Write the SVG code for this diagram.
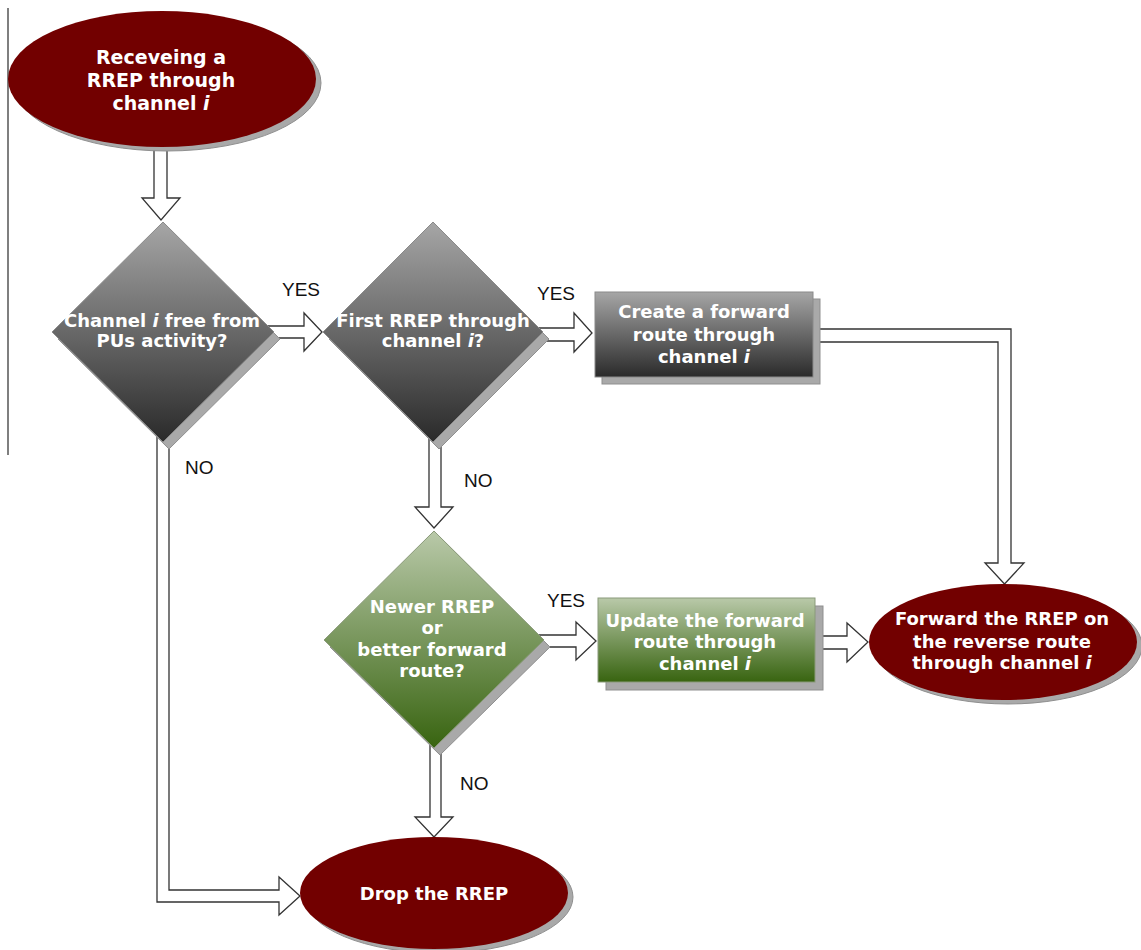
<svg xmlns="http://www.w3.org/2000/svg" width="1141" height="950" viewBox="0 0 1141 950">
<defs>
<linearGradient id="gGray" x1="0" y1="0" x2="0" y2="1">
<stop offset="0" stop-color="#a6a6a6"/>
<stop offset="1" stop-color="#2a2a2a"/>
</linearGradient>
<linearGradient id="gGreen" x1="0" y1="0" x2="0" y2="1">
<stop offset="0" stop-color="#b9c9a9"/>
<stop offset="1" stop-color="#386410"/>
</linearGradient>
</defs>
<style>
.arrow{fill:#ffffff;stroke:#333333;stroke-width:1.3;stroke-linejoin:miter}
.shadow{fill:#a9a9a9;stroke:#8f8f8f;stroke-width:1}
.term{fill:#720000}
.gray{fill:url(#gGray);stroke:#8a8a8a;stroke-width:1}
.green{fill:url(#gGreen);stroke:#8a9a7a;stroke-width:1}
.nt{font-family:"DejaVu Sans","Verdana",sans-serif;font-weight:bold;font-size:18px;fill:#ffffff;text-anchor:middle}
.big{font-size:19px}
.lbl{font-family:"Liberation Sans","Arial",sans-serif;font-size:19px;fill:#111111}
.it{font-style:italic}
</style>
<rect x="0" y="0" width="1141" height="950" fill="#ffffff"/>
<line x1="8" y1="8" x2="8" y2="455" stroke="#555555" stroke-width="1.5"/>
<g id="connectors">
<path class="arrow" d="M154,140 L154,198 L142,198 L161,220 L180,198 L167,198 L167,140 Z"/>
<path class="arrow" d="M262,326 L304,326 L304,313 L322,332 L304,351 L304,338 L262,338 Z"/>
<path class="arrow" d="M532,328 L574,328 L574,313 L592,333 L574,352 L574,341 L532,341 Z"/>
<path class="arrow" d="M808,329 L1011,329 L1011,563 L1024,563 L1004.5,584 L985,563 L998,563 L998,342 L808,342 Z"/>
<path class="arrow" d="M429,428 L429,507 L415,507 L434,528 L453,507 L441,507 L441,428 Z"/>
<path class="arrow" d="M530,635 L576,635 L576,622 L596,641 L576,660 L576,647 L530,647 Z"/>
<path class="arrow" d="M810,636 L847,636 L847,623 L868,642 L847,662 L847,649 L810,649 Z"/>
<path class="arrow" d="M430,735 L430,817 L415,817 L434,837 L453,817 L441,817 L441,735 Z"/>
<path class="arrow" d="M157,432 L157,902 L279,902 L279,915 L300,896 L279,877 L279,890 L169,890 L169,432 Z"/>
</g>
<g id="labels">
<text class="lbl" x="282" y="296">YES</text>
<text class="lbl" x="537" y="300">YES</text>
<text class="lbl" x="547" y="607">YES</text>
<text class="lbl" x="185" y="474">NO</text>
<text class="lbl" x="464" y="487">NO</text>
<text class="lbl" x="460" y="790">NO</text>
</g>
<g id="start">
<ellipse cx="167" cy="83" rx="154" ry="68" class="shadow"/>
<ellipse cx="162" cy="79" rx="154" ry="68" class="term"/>
<text class="nt big" x="161" y="64">Receveing a</text>
<text class="nt big" x="161" y="87">RREP through</text>
<text class="nt big" x="161" y="110">channel <tspan class="it">i</tspan></text>
</g>
<g id="decision1">
<polygon class="shadow" points="169,229 280,339 169,449 58,339"/>
<polygon class="gray" points="163,222 274,332 163,442 52,332"/>
<text class="nt" x="162" y="327">Channel <tspan class="it">i</tspan> free from</text>
<text class="nt" x="162" y="347">PUs activity?</text>
</g>
<g id="decision2">
<polygon class="shadow" points="439,229 549,339 439,449 329,339"/>
<polygon class="gray" points="433,222 543,332 433,442 323,332"/>
<text class="nt" x="433" y="327">First RREP through</text>
<text class="nt" x="433" y="347">channel <tspan class="it">i</tspan>?</text>
</g>
<g id="create">
<rect class="shadow" x="602" y="299" width="218" height="85"/>
<rect class="gray" x="595" y="292" width="218" height="85"/>
<text class="nt" x="704" y="318">Create a forward</text>
<text class="nt" x="704" y="341">route through</text>
<text class="nt" x="704" y="363">channel <tspan class="it">i</tspan></text>
</g>
<g id="decision3">
<polygon class="shadow" points="440,537 550,647 440,755 330,647"/>
<polygon class="green" points="434,531 544,640 434,748 324,640"/>
<text class="nt" x="432" y="613">Newer RREP</text>
<text class="nt" x="432" y="634">or</text>
<text class="nt" x="432" y="656">better forward</text>
<text class="nt" x="432" y="677">route?</text>
</g>
<g id="update">
<rect class="shadow" x="606" y="606" width="217" height="84"/>
<rect class="green" x="598" y="598" width="217" height="84"/>
<text class="nt" x="705" y="627">Update the forward</text>
<text class="nt" x="705" y="648">route through</text>
<text class="nt" x="705" y="670">channel <tspan class="it">i</tspan></text>
</g>
<g id="forward">
<ellipse cx="1008" cy="646" rx="134" ry="58" class="shadow"/>
<ellipse cx="1003" cy="642" rx="134" ry="58" class="term"/>
<text class="nt" x="1002" y="625">Forward the RREP on</text>
<text class="nt" x="1002" y="648">the reverse route</text>
<text class="nt" x="1002" y="669">through channel <tspan class="it">i</tspan></text>
</g>
<g id="drop">
<ellipse cx="439" cy="897" rx="134" ry="56" class="shadow"/>
<ellipse cx="434" cy="893" rx="134" ry="56" class="term"/>
<text class="nt" x="434" y="900">Drop the RREP</text>
</g>
</svg>
